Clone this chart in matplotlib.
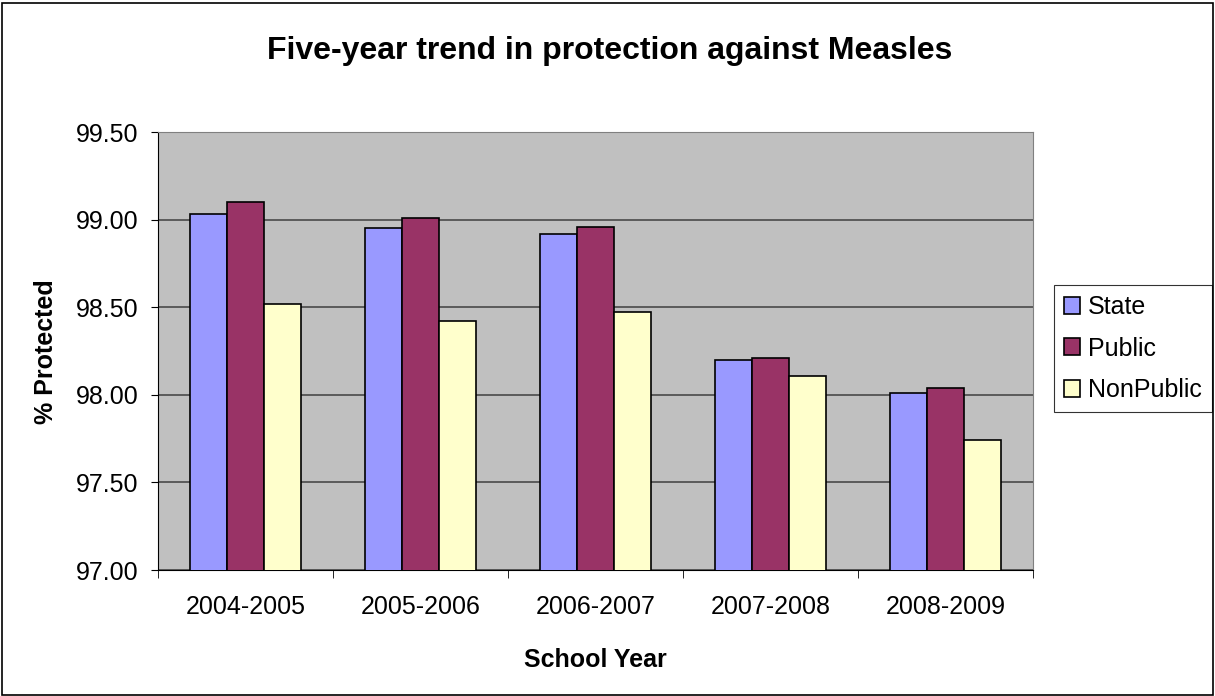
import numpy as np
import matplotlib.pyplot as plt
from matplotlib.patches import Rectangle

plt.rcParams['font.family'] = ['Liberation Sans', 'DejaVu Sans']

years = ['2004-2005', '2005-2006', '2006-2007', '2007-2008', '2008-2009']
state = [99.03, 98.95, 98.92, 98.20, 98.01]
public = [99.10, 99.01, 98.96, 98.21, 98.04]
nonpublic = [98.52, 98.42, 98.47, 98.11, 97.74]

W, H = 1215, 696
fig = plt.figure(figsize=(W/100, H/100), dpi=100)
# outer chart border
fig.patches.append(Rectangle((0.002, 0.002), 0.996, 0.994, transform=fig.transFigure,
                             fill=False, edgecolor='black', linewidth=1.2))

ax = fig.add_axes([158/W, 1-570/H, (1033-158)/W, (570-132)/H])
ax.set_facecolor('#c0c0c0')

x = np.arange(len(years))
w = 0.213
ax.bar(x - w, state, w, color='#9999ff', edgecolor='black', linewidth=1.2, label='State', zorder=3)
ax.bar(x, public, w, color='#993366', edgecolor='black', linewidth=1.2, label='Public', zorder=3)
ax.bar(x + w, nonpublic, w, color='#ffffcc', edgecolor='black', linewidth=1.2, label='NonPublic', zorder=3)

ax.set_ylim(97.0, 99.5)
ax.set_xlim(-0.5, len(years) - 0.5)
yt = np.arange(97.0, 99.51, 0.5)
ax.set_yticks(yt)
ax.set_yticklabels(['%.2f' % v for v in yt], fontsize=18)
ax.yaxis.grid(True, color='#4a4a4a', linewidth=1.2, zorder=1)
ax.set_axisbelow(True)

ax.set_xticks(x)
ax.set_xticklabels(years, fontsize=18)
ax.tick_params(axis='x', length=0, pad=18)
ax.set_xticks(np.arange(-0.5, len(years)), minor=True)
ax.tick_params(axis='x', which='minor', length=6, direction='out')
ax.tick_params(axis='y', length=5, direction='out', pad=9)

for s in ['top', 'right']:
    ax.spines[s].set_color('#808080')
for s in ['left', 'bottom']:
    ax.spines[s].set_color('black')

fig.text(595.5/W, 1-667/H, 'School Year', ha='center', va='baseline',
         fontsize=18, fontweight='bold')
fig.text(46/W, 1-351.5/H, '% Protected', ha='center', va='center', rotation=90,
         fontsize=18, fontweight='bold')
fig.text(610/W, 1-59/H, 'Five-year trend in protection against Measles',
         ha='center', va='baseline', fontsize=23, fontweight='bold')

leg = ax.legend(loc='center left', bbox_to_anchor=(1054/W, 1-348.5/H),
                bbox_transform=fig.transFigure, fontsize=18, frameon=True,
                fancybox=False, edgecolor='black', handlelength=0.65, handleheight=0.65,
                handletextpad=0.3, labelspacing=0.7, borderpad=0.4, borderaxespad=0)
leg.get_frame().set_linewidth(0.8)

fig.savefig('out.png', dpi=100)
